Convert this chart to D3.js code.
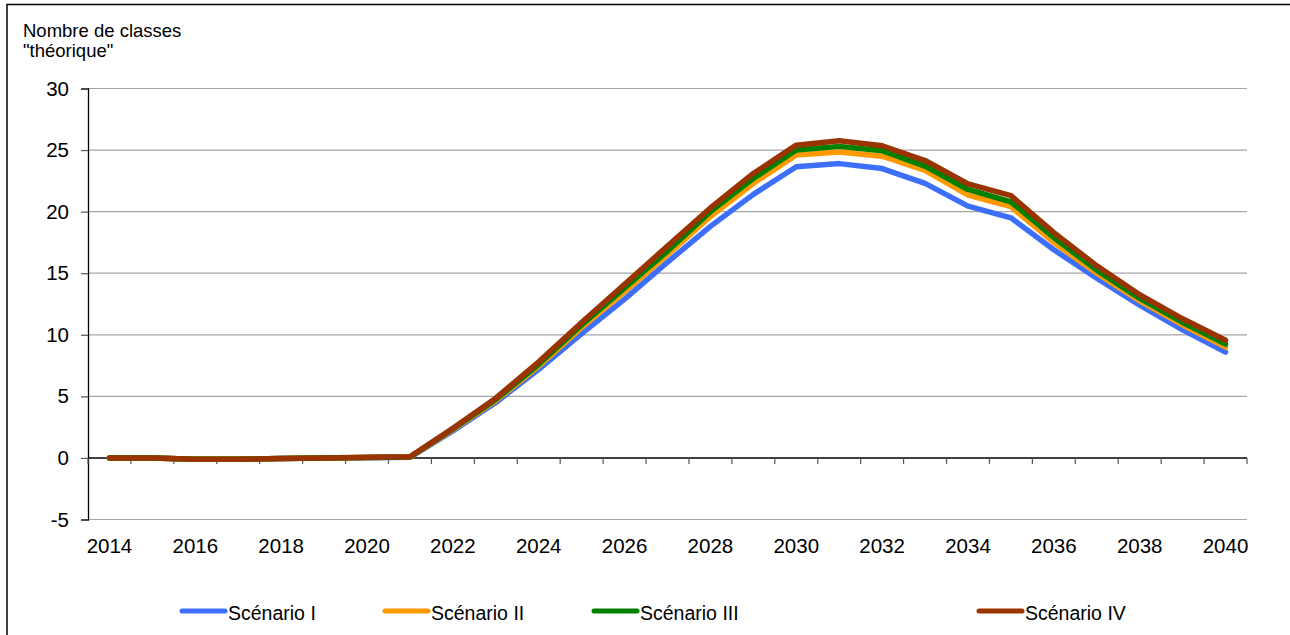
<!DOCTYPE html>
<html><head><meta charset="utf-8">
<script src="https://cdn.jsdelivr.net/npm/d3@7"></script>
<style>
html,body{margin:0;padding:0;background:#fff;overflow:hidden;}
svg{display:block;font-family:"Liberation Sans",Arial,sans-serif;}
</style></head>
<body>
<svg id="c" width="1290" height="635"></svg>
<script>
const years = d3.range(2014, 2041);
const xTickLabels = [2014,2016,2018,2020,2022,2024,2026,2028,2030,2032,2034,2036,2038,2040];
const yTicks = [-5,0,5,10,15,20,25,30];
const seriesNames = ["Scénario I","Scénario II","Scénario III","Scénario IV"];
const seriesColors = ["#3d6ffb","#ff9900","#008000","#993300"];
const scenarioI   = [0,0,-0.1,-0.1,-0.05,0,0.02,0.05,2.2,4.5,7.2,10.1,12.9,15.9,18.8,21.4,23.65,23.9,23.5,22.3,20.45,19.5,16.9,14.6,12.4,10.4,8.6];
const scenarioII  = [0,0,-0.1,-0.1,-0.05,0,0.03,0.07,2.3,4.65,7.45,10.6,13.5,16.5,19.6,22.3,24.6,24.85,24.5,23.35,21.35,20.4,17.5,15.0,12.75,10.8,9.0];
const scenarioIII = [0,0,-0.1,-0.1,-0.05,0,0.04,0.08,2.35,4.75,7.6,10.8,13.8,16.8,20.0,22.7,25.0,25.3,24.95,23.7,21.8,20.8,17.9,15.25,12.95,11.0,9.25];
const scenarioIV  = [0,0,-0.1,-0.1,-0.05,0,0.05,0.1,2.4,4.85,7.8,11.0,14.1,17.2,20.3,23.1,25.4,25.75,25.35,24.15,22.25,21.3,18.3,15.6,13.25,11.3,9.55];
const seriesValues = [scenarioI, scenarioII, scenarioIII, scenarioIV];

const svg = d3.select("#c");
const L = 88, R = 1247, T = 88.5, B = 519.5;

// outer frame: only top and left edges are inside the picture
svg.append("path").attr("d", "M7,640 L7,4.5 L1295,4.5")
  .attr("fill","none").attr("stroke","#000").attr("stroke-width",1.5);

const x = d3.scaleBand().domain(years).range([L, R]).paddingInner(0).paddingOuter(0);
const y = d3.scaleLinear().domain([-5, 30]).range([B, T]);

// gridlines
svg.append("g").selectAll("line").data(yTicks.filter(v => v !== 0)).join("line")
  .attr("x1", L).attr("x2", R).attr("y1", d => y(d)).attr("y2", d => y(d))
  .attr("stroke", "#a6a6a6").attr("stroke-width", 1.2);

// y axis
const yAxis = svg.append("g").attr("transform", `translate(${L},0)`)
  .call(d3.axisLeft(y).tickValues(yTicks).tickSize(7).tickPadding(12).tickFormat(d => String(d)));
yAxis.select(".domain").attr("stroke","#000").attr("stroke-width",1.3);
yAxis.selectAll(".tick line").attr("stroke","#555").attr("stroke-width",1.2);
yAxis.selectAll("text").attr("font-size", 20.5).attr("fill","#000")
  .style("font-family","'Liberation Sans',Arial,sans-serif");

// x axis at y=0, ticks at band boundaries
const xAxisG = svg.append("g").attr("transform", `translate(0,${y(0)})`);
xAxisG.append("line").attr("x1", L).attr("x2", R).attr("stroke","#000").attr("stroke-width",1.5);
const boundaries = years.map(d => x(d)).concat([R]);
xAxisG.selectAll("line.tk").data(boundaries).join("line").attr("class","tk")
  .attr("x1", d => d).attr("x2", d => d).attr("y1", 0).attr("y2", 6)
  .attr("stroke","#555").attr("stroke-width",1.2);

// x labels
svg.append("g").selectAll("text").data(xTickLabels).join("text")
  .attr("x", d => x(d) + x.bandwidth()/2).attr("y", 553)
  .attr("text-anchor","middle").attr("font-size",20.5).attr("fill","#000").text(d => d);

// lines
const line = d3.line().x((d,i) => x(years[i]) + x.bandwidth()/2).y(d => y(d));
svg.append("g").selectAll("path").data(seriesValues).join("path")
  .attr("d", d => line(d)).attr("fill","none")
  .attr("stroke", (d,i) => seriesColors[i]).attr("stroke-width", 5.5)
  .attr("stroke-linejoin","round").attr("stroke-linecap","round");

// title
const title = svg.append("text").attr("x", 23).attr("font-size", 18.5).attr("fill","#000");
title.append("tspan").attr("x",23).attr("y",37).text("Nombre de classes");
title.append("tspan").attr("x",23).attr("y",57).text("\"théorique\"");

// legend
const legendX = [182, 385, 594, 979];
const lg = svg.append("g").selectAll("g").data(seriesNames).join("g")
  .attr("transform", (d,i) => `translate(${legendX[i]},611)`);
lg.append("line").attr("x1",0).attr("x2",43).attr("y1",0).attr("y2",0)
  .attr("stroke",(d,i) => seriesColors[i]).attr("stroke-width",5).attr("stroke-linecap","round");
lg.append("text").attr("x",46).attr("y",9).attr("font-size",19.5).attr("fill","#000").text(d => d);
</script>
</body></html>
